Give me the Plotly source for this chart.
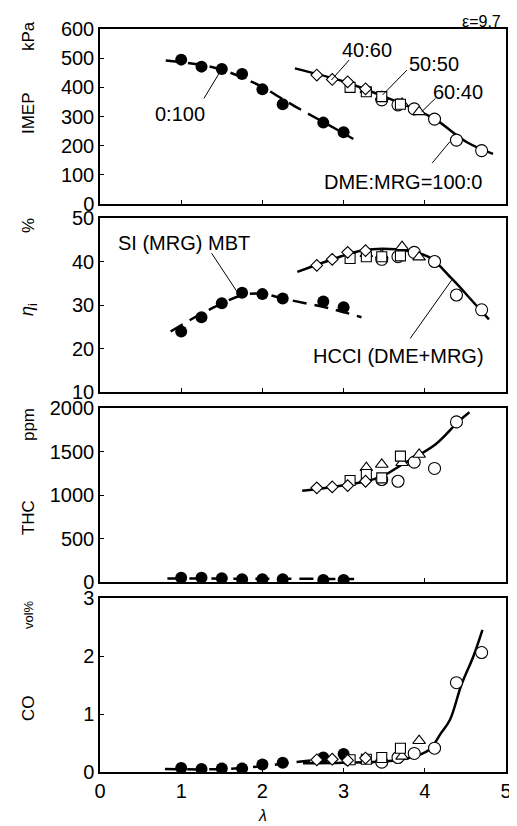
import plotly.graph_objects as go
from plotly.subplots import make_subplots

# ---------------- data ----------------
lam_si = [1.0, 1.25, 1.5, 1.75, 2.0, 2.25, 2.75, 3.0]
imep_si = [495, 471, 463, 446, 393, 342, 279, 246]
eta_si = [23.9, 27.2, 30.4, 32.8, 32.5, 31.5, 30.8, 29.5]
thc_si = [50, 50, 43, 31, 31, 31, 23, 23]
co_si = [0.07, 0.05, 0.06, 0.06, 0.13, 0.16, 0.25, 0.31]

lam_d = [2.67, 2.86, 3.05, 3.27]          # DME:MRG = 40:60
imep_d = [442, 427, 419, 395]
eta_d = [39.1, 40.5, 42.1, 42.5]
thc_d = [1082, 1093, 1108, 1158]
co_d = [0.21, 0.22, 0.20, 0.24]

lam_s = [3.08, 3.28, 3.47, 3.70]          # 50:50
imep_s = [400, 385, 368, 342]
eta_s = [40.7, 41.1, 41.1, 41.3]
thc_s = [1166, 1236, 1197, 1447]
co_s = [0.21, 0.22, 0.25, 0.41]

lam_t = [3.28, 3.47, 3.72, 3.93]          # 60:40
imep_t = [392, 368, 345, 316]
eta_t = [41.8, 41.5, 43.4, 41.0]
thc_t = [1313, 1351, 1370, 1466]
co_t = [0.20, 0.22, 0.27, 0.54]

lam_c = [3.47, 3.67, 3.87, 4.12, 4.39, 4.70]   # 100:0
imep_c = [357, 340, 326, 291, 219, 183]
eta_c = [40.5, 41.1, 42.1, 40.0, 32.3, 28.9]
thc_c = [1178, 1158, 1378, 1305, 1840, None]
co_c = [0.17, 0.25, 0.32, 0.41, 1.54, 2.06]

# trend curves
imep_si_fit_x = [0.81, 1.4, 1.9, 2.4, 2.9, 3.12]
imep_si_fit_y = [492, 468, 415, 335, 258, 223]
imep_hc_fit_x = [2.4, 3.0, 3.5, 3.9, 4.13, 4.53, 4.84]
imep_hc_fit_y = [465, 420, 368, 322, 290, 210, 172]

eta_si_fit_x = [0.87, 1.3, 1.76, 2.0, 2.25, 2.83, 3.22]
eta_si_fit_y = [23.9, 28.5, 32.3, 32.6, 31.5, 29.2, 27.2]
eta_hc_fit_x = [2.43, 2.83, 3.24, 3.64, 4.04, 4.33, 4.61, 4.79]
eta_hc_fit_y = [37.6, 40.3, 42.6, 42.8, 41.1, 36.1, 30.4, 26.7]

thc_si_fit_x = [0.83, 3.13]
thc_si_fit_y = [40, 35]
thc_hc_fit_x = [2.49, 2.87, 3.28, 3.48, 3.72, 4.13, 4.41, 4.55]
thc_hc_fit_y = [1050, 1093, 1158, 1216, 1350, 1580, 1840, 1950]

co_si_fit_x = [0.8, 1.5, 2.0, 2.4, 2.8, 3.1]
co_si_fit_y = [0.05, 0.05, 0.10, 0.17, 0.22, 0.24]
co_hc_fit_x = [2.5, 3.0, 3.5, 3.8, 4.05, 4.2, 4.31, 4.45, 4.6, 4.71]
co_hc_fit_y = [0.15, 0.16, 0.18, 0.24, 0.38, 0.67, 0.9, 1.5, 2.0, 2.45]

# ---------------- figure ----------------
FONT = "Arial, Liberation Sans, sans-serif"
fig = make_subplots(rows=4, cols=1, shared_xaxes=True, vertical_spacing=0.02)

panels = [
    (imep_si, imep_d, imep_s, imep_t, imep_c, imep_si_fit_x, imep_si_fit_y, imep_hc_fit_x, imep_hc_fit_y),
    (eta_si, eta_d, eta_s, eta_t, eta_c, eta_si_fit_x, eta_si_fit_y, eta_hc_fit_x, eta_hc_fit_y),
    (thc_si, thc_d, thc_s, thc_t, thc_c, thc_si_fit_x, thc_si_fit_y, thc_hc_fit_x, thc_hc_fit_y),
    (co_si, co_d, co_s, co_t, co_c, co_si_fit_x, co_si_fit_y, co_hc_fit_x, co_hc_fit_y),
]

open_marker = dict(color="white", line=dict(color="black", width=1.1))
for i, (si, d, s, t, c, sfx, sfy, hfx, hfy) in enumerate(panels):
    r = i + 1
    fig.add_trace(go.Scatter(x=sfx, y=sfy, mode="lines", line=dict(color="black", width=2.5, dash="14px,8px", shape="spline"),
                             showlegend=False, hoverinfo="skip"), row=r, col=1)
    fig.add_trace(go.Scatter(x=hfx, y=hfy, mode="lines", line=dict(color="black", width=2.5, shape="spline"),
                             showlegend=False, hoverinfo="skip"), row=r, col=1)
    fig.add_trace(go.Scatter(x=lam_si, y=si, mode="markers", marker=dict(symbol="circle", size=12, color="black"),
                             showlegend=False), row=r, col=1)
    fig.add_trace(go.Scatter(x=lam_c, y=c, mode="markers", marker=dict(symbol="circle", size=12, **open_marker),
                             showlegend=False), row=r, col=1)
    fig.add_trace(go.Scatter(x=lam_t, y=t, mode="markers", marker=dict(symbol="triangle-up", size=11, **open_marker),
                             showlegend=False), row=r, col=1)
    fig.add_trace(go.Scatter(x=lam_s, y=s, mode="markers", marker=dict(symbol="square", size=10, **open_marker),
                             showlegend=False), row=r, col=1)
    fig.add_trace(go.Scatter(x=lam_d, y=d, mode="markers", marker=dict(symbol="diamond", size=9, **open_marker),
                             showlegend=False), row=r, col=1)

# page geometry (the page body adds an 8 px offset on the left and top)
OFF = 8
W, H = 517 - OFF, 826 - OFF
PLOT_L, PLOT_R, PLOT_T, PLOT_B = 100, 512, 29, 772   # in page pixels
ML, MR, MT, MB = PLOT_L - OFF, 517 - PLOT_R, PLOT_T - OFF, 826 - PLOT_B
PH = PLOT_B - PLOT_T
PW = PLOT_R - PLOT_L

def yp(px):
    return (PLOT_B - px) / PH

def xp(px):
    return (px - PLOT_L) / PW

def dom(top_px, bot_px):
    return [yp(bot_px), yp(top_px)]

panel_px = [(29, 204), (218, 392), (408, 582), (598, 772)]
ranges = [[0, 600], [10, 50], [0, 2000], [0, 3]]
dticks = [100, 10, 500, 1]

axis_common = dict(showline=True, linecolor="black", linewidth=1.5, mirror=True, ticks="inside", ticklen=4,
                   tickcolor="black", showgrid=False, zeroline=False,
                   tickfont=dict(family=FONT, size=20, color="black"))
for i in range(4):
    yname = "yaxis" if i == 0 else f"yaxis{i+1}"
    xname = "xaxis" if i == 0 else f"xaxis{i+1}"
    fig.layout[yname].update(domain=dom(*panel_px[i]), range=ranges[i], dtick=dticks[i], tick0=0, **axis_common)
    fig.layout[xname].update(range=[0, 5], dtick=1, tick0=0, **axis_common)
    if i < 3:
        fig.layout[xname].update(showticklabels=False)

def ann(text, x, y, xref, yref, size=20, **kw):
    kw.setdefault("xanchor", "center")
    kw.setdefault("yanchor", "middle")
    fig.add_annotation(text=text, x=x, y=y, xref=xref, yref=yref, showarrow=False,
                       font=dict(family=FONT, size=size, color="black"), **kw)

def leader(x0, y0, x1, y1, xref, yref):
    fig.add_shape(type="line", x0=x0, y0=y0, x1=x1, y1=y1, xref=xref, yref=yref,
                  line=dict(color="black", width=1))

# panel 1 labels
ann("40:60", 3.29, 528, "x", "y")
leader(3.07, 494, 2.85, 425, "x", "y")
ann("50:50", 4.11, 480, "x", "y")
leader(3.78, 459, 3.48, 374, "x", "y")
ann("60:40", 4.41, 384, "x", "y")
leader(4.13, 362, 3.96, 316, "x", "y")
ann("0:100", 0.99, 309, "x", "y")
leader(1.28, 362, 1.48, 454, "x", "y")
ann("DME:MRG=100:0", 3.73, 76, "x", "y")
leader(4.09, 140, 4.31, 214, "x", "y")
# panel 2 labels
ann("SI (MRG) MBT", 1.04, 44.2, "x2", "y2")
leader(1.375, 41.9, 1.70, 32.7, "x2", "y2")
ann("HCCI (DME+MRG)", 3.67, 18.3, "x2", "y2")
leader(3.82, 22.3, 4.33, 35.7, "x2", "y2")

# epsilon
ann("ε=9.7", xp(509), yp(22), "paper", "paper", size=16, xanchor="right")

# axis titles
xl = xp(27)
ann("kPa", xl, yp(36), "paper", "paper", size=17, textangle=-90)
ann("IMEP", xl, yp(113), "paper", "paper", size=17, textangle=-90)
ann("%", xl, yp(226), "paper", "paper", size=17, textangle=-90)
ann("<i>η</i><sub>i</sub>", xl, yp(310), "paper", "paper", size=18, textangle=-90)
ann("ppm", xl, yp(425), "paper", "paper", size=17, textangle=-90)
ann("THC", xl, yp(518), "paper", "paper", size=17, textangle=-90)
ann("vol%", xl, yp(615), "paper", "paper", size=13, textangle=-90)
ann("CO", xl, yp(708), "paper", "paper", size=17, textangle=-90)
ann("<i>λ</i>", xp(265), yp(815), "paper", "paper", size=16)

fig.update_layout(width=W, height=H, margin=dict(l=ML, r=MR, t=MT, b=MB),
                  plot_bgcolor="white", paper_bgcolor="white",
                  font=dict(family=FONT, color="black"))

fig.write_html("out.html")
